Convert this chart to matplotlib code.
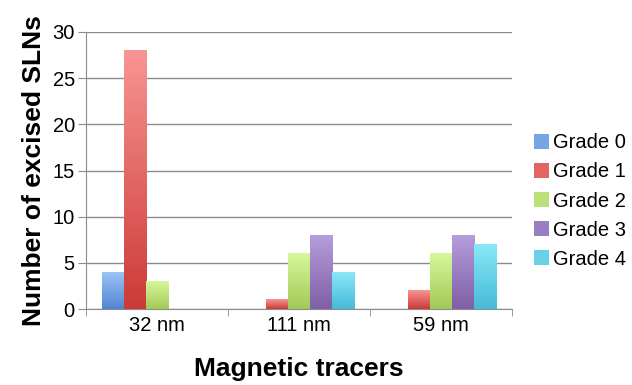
import numpy as np
import matplotlib
matplotlib.use('Agg')
import matplotlib.pyplot as plt
from matplotlib.colors import LinearSegmentedColormap
from matplotlib.patches import Patch

plt.rcParams['font.family'] = ['Liberation Sans', 'DejaVu Sans']

tracers = ['32 nm', '111 nm', '59 nm']
grades = ['Grade 0', 'Grade 1', 'Grade 2', 'Grade 3', 'Grade 4']
grade0 = [4, 0, 0]
grade1 = [28, 1, 2]
grade2 = [3, 6, 6]
grade3 = [0, 8, 8]
grade4 = [0, 4, 7]
series = [grade0, grade1, grade2, grade3, grade4]

# (top colour, bottom colour) for each grade
shades = [('#9cc3f7', '#4f86d2'),
          ('#f89593', '#cc3a36'),
          ('#d8f79c', '#a2c956'),
          ('#b69ddb', '#7f5fa7'),
          ('#8ae8f8', '#45bad8')]
legend_cols = ['#76a4e4', '#e26563', '#bde079', '#9b7ec1', '#68d1e8']

fig = plt.figure(figsize=(6.32, 3.85), dpi=100)
ax = fig.add_axes([0.136, 0.197, 0.674, 0.72])

width = 0.155
x = np.arange(len(tracers))
grad = np.linspace(0, 1, 256).reshape(-1, 1)

for i, (vals, (top, bottom)) in enumerate(zip(series, shades)):
    cmap = LinearSegmentedColormap.from_list('g%d' % i, [bottom, top])
    pos = x + (i - 2) * width
    for xp, v in zip(pos, vals):
        if v == 0:
            continue
        ax.imshow(grad, cmap=cmap, aspect='auto', origin='lower',
                  extent=(xp - width / 2, xp + width / 2, 0, v), zorder=3)

ax.set_xlim(-0.5, 2.5)
ax.set_ylim(0, 30)
ax.set_yticks(range(0, 31, 5))
ax.yaxis.grid(True, color='#8c8c8c', linewidth=1)
ax.set_axisbelow(True)

ax.set_xticks(x)
ax.set_xticklabels(tracers, fontsize=14.5)
ax.set_xticks([-0.5, 0.5, 1.5, 2.5], minor=True)
ax.tick_params(axis='x', which='major', length=0, pad=5)
ax.tick_params(axis='x', which='minor', length=5, color='#8c8c8c')
ax.tick_params(axis='y', length=6, color='#8c8c8c', labelsize=14.5, pad=2)

for s in ['top', 'right']:
    ax.spines[s].set_visible(False)
for s in ['left', 'bottom']:
    ax.spines[s].set_color('#8c8c8c')

ax.set_ylabel('Number of excised SLNs', fontsize=19, fontweight='bold', labelpad=5)
ax.set_xlabel('Magnetic tracers', fontsize=19, fontweight='bold', labelpad=16)

handles = [Patch(facecolor=c, label=g) for g, c in zip(grades, legend_cols)]
ax.legend(handles=handles, loc='center left', bbox_to_anchor=(1.0, 0.39),
          frameon=False, fontsize=14.5, handlelength=0.75, handleheight=0.75,
          handletextpad=0.2, labelspacing=0.5, borderaxespad=0.7)

fig.savefig('out.png', dpi=100)
